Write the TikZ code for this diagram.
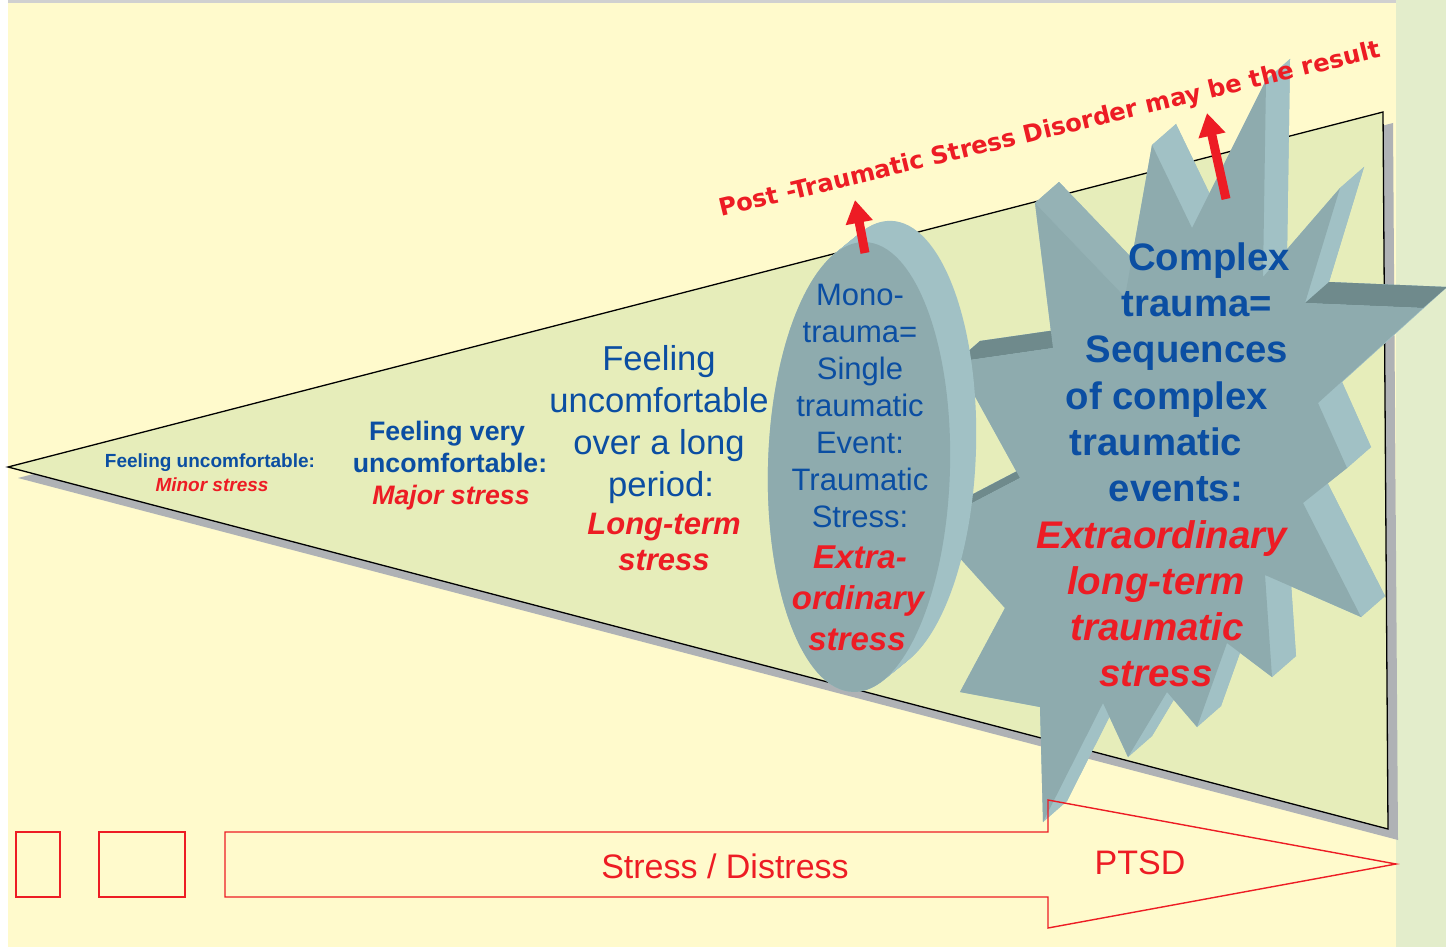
\documentclass[tikz,border=0pt]{standalone}
\usepackage{fontspec}
\setmainfont{Liberation Sans}
\newfontfamily\dejavu{DejaVu Sans}
\usetikzlibrary{arrows.meta,calc}
\definecolor{bgyellow}{HTML}{FFFACC}
\definecolor{bggreen}{HTML}{E3EDCB}
\definecolor{topgray}{HTML}{D0D0D0}
\definecolor{wedge}{HTML}{E6EDBA}
\definecolor{shadowgray}{HTML}{AFB2B5}
\definecolor{starfront}{HTML}{8EABAE}
\definecolor{starlight}{HTML}{A1C1C5}
\definecolor{stardark}{HTML}{6F8A8C}
\definecolor{starmid}{HTML}{95B2B5}
\definecolor{myred}{HTML}{ED1C24}
\definecolor{myblue}{HTML}{0B4EA2}
\newcommand\fsz[1]{\fontsize{#1}{#1}\selectfont}
\begin{document}
\begin{tikzpicture}[x=1pt,y=-1pt,
  bl/.style={text=myblue,anchor=base,inner sep=0pt},
  rd/.style={text=myred,anchor=base,inner sep=0pt},
  redarrow/.style={draw=myred,line width=9pt,-{Triangle[width=26pt,length=23pt]}},
  outline/.style={draw=myred,line width=1.4pt,line join=miter}]
\useasboundingbox (0,0) rectangle (1446,947);
\fill[white] (0,0) rectangle (1446,947);
\fill[bgyellow] (8,0) rectangle (1396,947);
\fill[topgray] (8,0) rectangle (1396,3);
\fill[bggreen] (1396,0) rectangle (1446,947);

% wedge
\coordinate (wtip) at (8,467);
\coordinate (wtr) at (1383,112);
\coordinate (wbr) at (1388,829);
\fill[shadowgray] ($(wtip)+(10,11)$) -- ($(wtr)+(10,11)$) -- ($(wbr)+(10,11)$) -- cycle;
\filldraw[fill=wedge,draw=black,line width=1.3pt,line join=miter] (wtip) -- (wtr) -- (wbr) -- cycle;

% star
\coordinate (A) at (1053,348);
\coordinate (P1) at (1035,203);
\coordinate (V1) at (1125,297);
\coordinate (P2) at (1152,145);
\coordinate (V2) at (1192,228);
\coordinate (P3) at (1266,80);
\coordinate (V3) at (1263,277);
\coordinate (P4) at (1340,188);
\coordinate (V4) at (1305,303);
\coordinate (P5) at (1423,308);
\coordinate (V5) at (1318,403);
\coordinate (P6) at (1347,468);
\coordinate (V6) at (1303,503);
\coordinate (P7) at (1361,617);
\coordinate (V7) at (1265,575);
\coordinate (P8) at (1272,677);
\coordinate (V8) at (1227,643);
\coordinate (P9) at (1197,727);
\coordinate (V9) at (1167,692);
\coordinate (P10) at (1128,757);
\coordinate (V10) at (1103,703);
\coordinate (P11) at (1043,822);
\coordinate (V11) at (1040,707);
\coordinate (P12) at (960,692);
\coordinate (V12) at (1005,608);
\coordinate (P14) at (930,525);
\coordinate (V13) at (1020,478);
\coordinate (P13) at (956,362);
\foreach \n in {A,P1,V1,P2,V2,P3,V3,P4,V4,P5,V5,P6,V6,P7,V7,P8,V8,P9,V9,P10,V10,P11,V11,P12,V12,P14,V13,P13}
  \coordinate (\n-b) at ($(\n)+(24,-21)$);
\fill[starlight] (A-b) -- (P1-b) -- (V1-b) -- (P2-b) -- (V2-b) -- (P3-b) -- (V3-b) -- (P4-b) -- (V4-b) -- (P5-b) -- (V5-b) -- (P6-b) -- (V6-b) -- (P7-b) -- (V7-b) -- (P8-b) -- (V8-b) -- (P9-b) -- (V9-b) -- (P10-b) -- (V10-b) -- (P11-b) -- (V11-b) -- (P12-b) -- (V12-b) -- (P14-b) -- (V13-b) -- (P13-b) -- cycle;
\foreach \a/\b in {A/P1,P1/V1,V1/P2,P2/V2,V2/P3,P3/V3,V3/P4,P4/V4,V4/P5,P5/V5,V5/P6,P6/V6,V6/P7,P7/V7,V7/P8,P8/V8,V8/P9,P9/V9,V9/P10,P10/V10,V10/P11,P11/V11,V11/P12,P12/V12,V12/P14,P14/V13,V13/P13,P13/A}
  \fill[starlight] (\a) -- (\b) -- (\b-b) -- (\a-b) -- cycle;
\foreach \a/\b in {P13/A,P14/V13,V4/P5}
  \fill[stardark] (\a) -- (\b) -- (\b-b) -- (\a-b) -- cycle;
\fill[starmid] (P1) -- (V1) -- (V1-b) -- (P1-b) -- cycle;
\fill[starfront] (A) -- (P1) -- (V1) -- (P2) -- (V2) -- (P3) -- (V3) -- (P4) -- (V4) -- (P5) -- (V5) -- (P6) -- (V6) -- (P7) -- (V7) -- (P8) -- (V8) -- (P9) -- (V9) -- (P10) -- (V10) -- (P11) -- (V11) -- (P12) -- (V12) -- (P14) -- (V13) -- (P13) -- cycle;

% disc
\begin{scope}[rotate around={-1.5:(859,467)}]
  \foreach \t in {0,...,30}
    \fill[starlight] (859+0.85*\t,467-0.73*\t) ellipse [x radius=91, y radius=225];
  \fill[starfront] (859,467) ellipse [x radius=91, y radius=225];
\end{scope}

% red arrows
\coordinate (a1s) at (865,253);
\coordinate (a1e) at (855,200);
\coordinate (a2s) at (1226,199);
\coordinate (a2e) at (1207,113);
\draw[redarrow] (a1s) -- (a1e);
\draw[redarrow] (a2s) -- (a2e);

\node[text=myred,anchor=base west,inner sep=0pt,rotate=13.6,font=\dejavu\bfseries\fsz{24.2}] (ptsdt) at (721,217) {Post -Traumatic Stress Disorder may be the result};

% texts of the wedge
\node[bl,font=\fsz{19}\bfseries] (m1) at (210,467) {Feeling uncomfortable:};
\node[rd,font=\fsz{19}\bfseries\itshape] (m2) at (212,491) {Minor stress};
\node[bl,font=\fsz{26.7}\bfseries] (j1) at (447,440) {Feeling very};
\node[bl,font=\fsz{26.7}\bfseries] (j2) at (450,472) {uncomfortable:};
\node[rd,font=\fsz{26.7}\bfseries\itshape] (j3) at (451,504) {Major stress};
\node[bl,font=\fsz{34.6}] (l1) at (659,370) {Feeling};
\node[bl,font=\fsz{34.6}] (l2) at (659,412) {uncomfortable};
\node[bl,font=\fsz{34.6}] (l3) at (659,454) {over a long};
\node[bl,font=\fsz{34.6}] (l4) at (661,496) {period:};
\node[rd,font=\fsz{31}\bfseries\itshape] (l5) at (664,534) {Long-term};
\node[rd,font=\fsz{31}\bfseries\itshape] (l6) at (664,570) {stress};

% disc text
\node[bl,font=\fsz{31}] (d1) at (860,305) {Mono-};
\node[bl,font=\fsz{31}] (d2) at (860,342) {trauma=};
\node[bl,font=\fsz{31}] (d3) at (860,379) {Single};
\node[bl,font=\fsz{31}] (d4) at (860,416) {traumatic};
\node[bl,font=\fsz{31}] (d5) at (860,453) {Event:};
\node[bl,font=\fsz{31}] (d6) at (860,490) {Traumatic};
\node[bl,font=\fsz{31}] (d7) at (860,527) {Stress:};
\node[rd,font=\fsz{33}\bfseries\itshape] (d8) at (860,568) {Extra-};
\node[rd,font=\fsz{33}\bfseries\itshape] (d9) at (858,609) {ordinary};
\node[rd,font=\fsz{33}\bfseries\itshape] (d10) at (857,650) {stress};

% star text
\node[bl,font=\fsz{38.3}\bfseries] (s1) at (1209,270) {Complex};
\node[bl,font=\fsz{38.3}\bfseries] (s2) at (1197,316) {trauma=};
\node[bl,font=\fsz{38.3}\bfseries] (s3) at (1187,362) {Sequences};
\node[bl,font=\fsz{38.3}\bfseries] (s4) at (1167,409) {of complex};
\node[bl,font=\fsz{38.3}\bfseries] (s5) at (1156,455) {traumatic};
\node[bl,font=\fsz{38.3}\bfseries] (s6) at (1176,501) {events:};
\node[rd,font=\fsz{38.5}\bfseries\itshape] (s7) at (1162,548) {Extraordinary};
\node[rd,font=\fsz{38.5}\bfseries\itshape] (s8) at (1156,594) {long-term};
\node[rd,font=\fsz{38.5}\bfseries\itshape] (s9) at (1157,640) {traumatic};
\node[rd,font=\fsz{38.5}\bfseries\itshape] (s10) at (1156,686) {stress};

% bottom arrow and boxes
\draw[outline] (16,832) rectangle (60,897);
\draw[outline] (99,832) rectangle (185,897);
\coordinate (b1) at (225,832);
\coordinate (b2) at (1048,832);
\coordinate (b3) at (1048,800);
\coordinate (b4) at (1396,864);
\coordinate (b5) at (1048,928);
\coordinate (b6) at (1048,897);
\coordinate (b7) at (225,897);
\draw[outline] (b1) -- (b2) -- (b3) -- (b4) -- (b5) -- (b6) -- (b7) -- cycle;
\node[rd,font=\fsz{34}] (sd) at (725,878) {Stress / Distress};
\node[rd,font=\fsz{34}] (pt) at (1140,874) {PTSD};
\end{tikzpicture}
\end{document}
